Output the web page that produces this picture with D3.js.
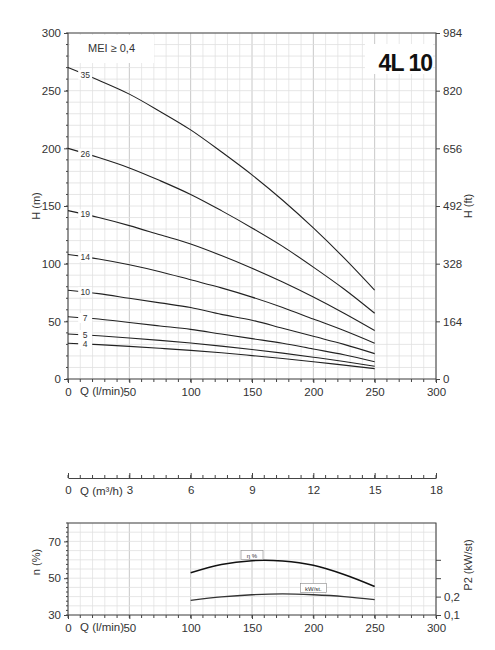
<!DOCTYPE html><html><head><meta charset="utf-8"><script src="https://cdn.jsdelivr.net/npm/d3@7"></script>
<style>body{margin:0;background:#fff}text{font-family:"Liberation Sans",Arial,sans-serif;fill:#333}</style></head><body><svg id="c" width="495" height="650"></svg><script>
const flowQ=[0,25,50,75,100,125,150,175,200,225,250];
const stages=["35","26","19","14","10","7","5","4"];
const heads=[
[270,259,247,232,216,197,177,155,131,105,77],
[200,192,183,172,160,146,131,115,97,78,57],
[146,140,133,125,117,107,96,84,71,57,42],
[108,104,99,93,86,79,71,62,52,42,31],
[77,74,70,66,62,56,51,44,37,30,22],
[54,52,49,46,43,39,35,31,26,21,15],
[39,37.5,35.6,33.5,31.2,28.5,25.6,22.4,18.9,15.2,11],
[31,29.8,28.3,26.6,24.8,22.7,20.3,17.8,15,12,9]];
const effQ=[100,125,150,160,175,200,225,250];
const effV=[53,57.5,59.5,59.7,59.3,57,52,45.5];
const powQ=[100,125,150,175,200,225,250];
const powV=[0.18,0.198,0.21,0.215,0.21,0.2,0.183];
const hTicks=[0,50,100,150,200,250,300];
const ftTicks=["0","164","328","492","656","820","984"];
const qTicks=[0,50,100,150,200,250,300];
const m3Ticks=[0,3,6,9,12,15,18];
const effTicks=[30,50,70];

const svg=d3.select("#c");
const x=d3.scaleLinear().domain([0,300]).range([68,436]);
const y=d3.scaleLinear().domain([0,300]).range([379,33]);
const yb=d3.scaleLinear().domain([30,80]).range([615,523]);
const yp=d3.scaleLinear().domain([0.1,0.6]).range([615,523]);

function grid(ys,ymin,ymax,ystep){
 const g=svg.append("g");
 for(let v=0;v<=300;v+=10)g.append("line").attr("x1",x(v)).attr("x2",x(v)).attr("y1",ys(ymin)).attr("y2",ys(ymax)).attr("stroke",v%50==0?"#c8c8c8":"#e2e2e2").attr("stroke-width",v%50==0?1:0.8);
 for(let v=ymin;v<=ymax;v+=ystep)g.append("line").attr("x1",x(0)).attr("x2",x(300)).attr("y1",ys(v)).attr("y2",ys(v)).attr("stroke","#e0e0e0").attr("stroke-width",0.8);
}
grid(y,0,300,10);
grid(yb,30,80,5);
svg.append("rect").attr("x",x(0)).attr("y",y(300)).attr("width",x(300)-x(0)).attr("height",y(0)-y(300)).attr("fill","none").attr("stroke","#444");
svg.append("rect").attr("x",x(0)).attr("y",yb(80)).attr("width",x(300)-x(0)).attr("height",yb(30)-yb(80)).attr("fill","none").attr("stroke","#444");

function axisStyle(g){g.selectAll("path,line").attr("stroke","#444");g.selectAll("text").attr("font-size",11.5).attr("fill","#333").style("font-family","Liberation Sans, Arial");}
svg.append("g").attr("transform",`translate(${x(0)},0)`).call(d3.axisLeft(y).tickValues(hTicks).tickSize(4).tickSizeOuter(0)).call(axisStyle).call(g=>g.select(".domain").remove());
svg.append("g").attr("transform",`translate(${x(300)},0)`).call(d3.axisRight(y).tickValues(hTicks).tickFormat((d,i)=>ftTicks[i]).tickSize(4).tickSizeOuter(0)).call(axisStyle).call(g=>g.select(".domain").remove());
for(let v=0;v<=300;v+=10){svg.append("line").attr("x1",x(0)-2).attr("x2",x(0)).attr("y1",y(v)).attr("y2",y(v)).attr("stroke","#444");
 svg.append("line").attr("x1",x(v)).attr("x2",x(v)).attr("y1",y(0)).attr("y2",y(0)+3).attr("stroke","#444");
 svg.append("line").attr("x1",x(v)).attr("x2",x(v)).attr("y1",yb(30)).attr("y2",yb(30)+3).attr("stroke","#444");}
function qAxis(yy){svg.append("g").attr("transform",`translate(0,${yy})`).call(d3.axisBottom(x).tickValues(qTicks).tickSize(4).tickSizeOuter(0)).call(axisStyle).call(g=>g.select(".domain").remove()).call(g=>g.selectAll("text").attr("dy","0.9em"));
 svg.append("text").attr("x",80).attr("y",yy+16).attr("font-size",11.5).text("Q (l/min)");}
qAxis(379);qAxis(615);
const xm=d3.scaleLinear().domain([0,18]).range([68,436]);
svg.append("g").attr("transform","translate(0,478)").call(d3.axisBottom(xm).tickValues(m3Ticks).tickSize(-5).tickSizeOuter(0)).call(axisStyle).call(g=>g.selectAll("text").attr("dy","1.1em"));
for(let v=0;v<=18;v+=0.6)svg.append("line").attr("x1",xm(v)).attr("x2",xm(v)).attr("y1",478).attr("y2",475).attr("stroke","#444");
svg.append("text").attr("x",80).attr("y",495).attr("font-size",11.5).html("Q (m³/h)");
svg.append("g").attr("transform",`translate(${x(0)},0)`).call(d3.axisLeft(yb).tickValues(effTicks).tickSize(4).tickSizeOuter(0)).call(axisStyle).call(g=>g.select(".domain").remove());
for(let v=30;v<=80;v+=2.5)svg.append("line").attr("x1",x(0)-2).attr("x2",x(0)).attr("y1",yb(v)).attr("y2",yb(v)).attr("stroke","#444");
svg.append("g").attr("transform",`translate(${x(300)},0)`).call(d3.axisRight(yp).tickValues([0.1,0.2,0.3,0.4]).tickFormat(d=>d<0.25?String(d).replace(".",","):"").tickSize(5).tickSizeOuter(0)).call(axisStyle).call(g=>g.select(".domain").remove());
svg.append("text").attr("transform","translate(40,206) rotate(-90)").attr("text-anchor","middle").attr("font-size",11).text("H (m)");
svg.append("text").attr("transform","translate(472,206) rotate(-90)").attr("text-anchor","middle").attr("font-size",11).text("H (ft)");
svg.append("text").attr("transform","translate(40,562) rotate(-90)").attr("text-anchor","middle").attr("font-size",11).text("n (%)");
svg.append("text").attr("transform","translate(472,565) rotate(-90)").attr("text-anchor","middle").attr("font-size",11).text("P2 (kW/st)");
svg.append("rect").attr("x",70).attr("y",35).attr("width",84).attr("height",28).attr("fill","#fff");
svg.append("text").attr("x",88).attr("y",52).attr("font-size",11).text("MEI ≥ 0,4");
svg.append("rect").attr("x",365).attr("y",44).attr("width",68).attr("height",30).attr("fill","#fff");
svg.append("text").attr("x",432).attr("y",71).attr("text-anchor","end").attr("font-size",23).attr("font-weight","bold").style("fill","#111").style("letter-spacing","-1px").text("4L 10");
const line=d3.line().curve(d3.curveMonotoneX);
heads.forEach((h,i)=>{
 svg.append("path").attr("d",line(flowQ.map((q,j)=>[x(q),y(h[j])]))).attr("fill","none").attr("stroke","#222").attr("stroke-width",1.1);
 const lq=14,lh=h[0]+(h[1]-h[0])*lq/25;
 svg.append("rect").attr("x",x(lq)-7).attr("y",y(lh)-5).attr("width",14).attr("height",10).attr("fill","#fff");
 svg.append("text").attr("x",x(lq)).attr("y",y(lh)+3).attr("text-anchor","middle").attr("font-size",8.5).text(stages[i]);
});
svg.append("path").attr("d",line(effQ.map((q,j)=>[x(q),yb(effV[j])]))).attr("fill","none").attr("stroke","#111").attr("stroke-width",1.5);
svg.append("path").attr("d",line(powQ.map((q,j)=>[x(q),yp(powV[j])]))).attr("fill","none").attr("stroke","#333").attr("stroke-width",1.3);
function tag(q,v,t,w){svg.append("rect").attr("x",x(q)-w/2).attr("y",yb(v)-5).attr("width",w).attr("height",9).attr("fill","#fff").attr("stroke","#888").attr("stroke-width",0.6);
 svg.append("text").attr("x",x(q)).attr("y",yb(v)+2.5).attr("text-anchor","middle").attr("font-size",6).text(t);}
tag(150,62.3,"η %",22);tag(200,44.5,"kW/st.",26);
</script></body></html>
